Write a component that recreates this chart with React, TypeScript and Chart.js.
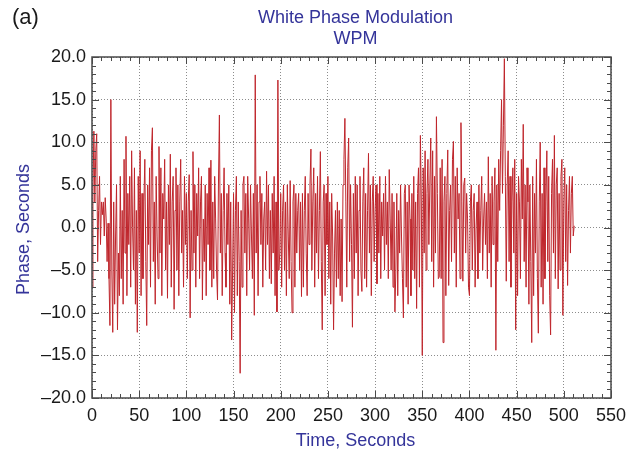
import { useEffect, useRef } from "react";
import { Chart, registerables } from "chart.js";

Chart.register(...registerables);

// Phase values (seconds), one per second, t = 0..511
const phase: number[] = [
  -7, 4, 11.3, 3, 9, 11, -4, 2, 6, -2,
  3, 1.5, 3, -1, 3.5, 1, -4, 0.5, -6, -11.5,
  15, -5, -12.3, 3, -9, -1, 5, -12, -3, -8,
  6, -6, 2, -9, 8, -3, 10.7, -8, 4, -2,
  6, -7, 9, 0, -5, 7, -9, 2, -12.3, 6,
  -3, 9, -8, 4, -6, 3, 8, -4, -11.5, 5,
  -2, 7, -7, 9, 11.7, -4, 3, -9, 6, -1,
  -6, 9.5, -3, 7, -8, 4, 1, 8, -5, 3,
  -8.3, 5, -2, 8.6, -7, 3, 6, -9.6, 2, 7,
  -5, 5, -8, 3, 8, -3, 2, -7, 6, -2,
  4, -6, 3, 6.2, -10.6, 2, -5, 8.9, -3, 5,
  -7, 4, -1, 7, -6, 3, 6, -8.5, 1, -4,
  5, -8, 4, -2, 7, -5, 7.9, -7, 3, -6,
  6, 1, -5, -8.5, 5, 13.2, -3, 4, -8, 2,
  7, -3, -7, 4, -2, 5, -9, 3, -13.2, -5,
  4, -10, 2, 6, -8, 3, -4, -17.1, 2, -7,
  5, 6, -3, 4, -8, 6, 1, -5, 5, -1,
  -6, 4, -10.3, 17.9, -3, 5, -8, 3, 6, -2,
  4, -7, 1, 3, -5, 6.6, -2, 5, -6, 2,
  -6.6, 4, -3, 6, -8, 3, -9.9, 17.3, -5, -3,
  4, -7, 2, 5, -5, 3, -8, 5, -1, -6,
  5.5, -4, -10, 3, 5, -7, 4, -3, 2, 4,
  -5, 3, -8.1, 4, -7, 2, 6, -3, -8, 4,
  -2, 5, 9.2, -5, 3, 7, -7, 4, -3, 6,
  -6, 2, 8.9, -4, -12, 3, 5, -8, 4, -2,
  6, -6, 3, -9, 4, -1, -12, -3, 2, -7,
  3, -6, 2, -8, 1, -8.7, 5, 8, 12.8, 3,
  -7, 7, 10.5, -4, 5, -2, -11.7, 4, -6, 6,
  -3, 5, -8, 2, 6, -5, -7.5, 3, 7, -6,
  4, -7, 2, 8.7, -3, 5, -8, 3, 6, -4,
  2, 5, -6.6, 4, -3, 6, -6, 3, -1, 4,
  -5, 6, -2, 3, -6, 6.8, 1, -5, 4, -7,
  3, -9.9, -5, 4, -8, 2, -3, 5, -1, -6,
  -10.6, 4, 5, -7, 3, -9, 5, 1, -8, 4,
  -5, 6, -6, 3, -9.5, 4, 7, -7, 10.8, 3,
  -15, 7, -3, 9, -5, 4, 8, -2, 5, 10.5,
  -4, 9, -7, 6, -3, 13, 4, -6, -5.8, 7,
  -6, 8, -13.5, 3, 6, -8, 4, 9.1, -6.8, 2,
  5, -4, 8, 10.1, -3, 6, -7, 7, 1, 4,
  -6, 12.3, 3, -6.3, 5, 5.8, -3, 4, 1, -7,
  -8, 3, 5, -5, 2, 4, -7, 0, 3, -6,
  5, -3, 2, 6, -5, 1, 4, -2, 3, -6,
  8.3, -3, 4, -7, 6, -2, 3, 7, -14.4, 5,
  -4, 8, 2, 9, 15, 4, 12, 19.8, 6, -6.3,
  5, 9, -4, 6, -7, 3, 7, -3, 8, -12,
  4, -8, 6, 3, -6, 8, 1, 12.1, -4, 5,
  -7, 7, 3, -9, 5, -4, -13.5, 6, -8, 4,
  -3, 8, -6, -12.4, 3, 10, -7, 4, -9, 7,
  -6, 3, 9, -4, 6, -8, -12.6, 4, 8, -3,
  10.8, -6, 5, 7, -7.2, 4, -5, 6, 8, -10.3,
  3, 7, -4, 5, -6.8, 2, 6, -3, 4, 6,
  -1, 0.2,
];

const xTickValues: number[] = [0, 50, 100, 150, 200, 250, 300, 350, 400, 450, 500, 550];
const yTickValues: number[] = [-20, -15, -10, -5, 0, 5, 10, 15, 20];

const titleLines: string[] = ["White Phase Modulation", "WPM"];
const panelLabel = "(a)";
const xTitle = "Time, Seconds";
const yTitle = "Phase, Seconds";

const FONT = "'Liberation Sans', Arial, Helvetica, sans-serif";
const BLUE = "#34349a";

const framePlugin = {
  id: "frameAndText",
  afterDraw(chart: any) {
    const { ctx, chartArea: a, scales } = chart;
    const x = scales.x;
    const y = scales.y;
    ctx.save();
    // frame
    ctx.strokeStyle = "#4a4a4a";
    ctx.lineWidth = 1.5;
    ctx.strokeRect(a.left, a.top, a.right - a.left, a.bottom - a.top);
    // ticks on all four sides, pointing inward
    ctx.lineWidth = 1;
    ctx.beginPath();
    for (let v = 0; v <= 550; v += 10) {
      const px = Math.round(x.getPixelForValue(v)) + 0.5;
      const len = v % 50 === 0 ? 7 : 4;
      ctx.moveTo(px, a.bottom);
      ctx.lineTo(px, a.bottom - len);
      ctx.moveTo(px, a.top);
      ctx.lineTo(px, a.top + len);
    }
    for (let v = -20; v <= 20; v += 1) {
      const py = Math.round(y.getPixelForValue(v)) + 0.5;
      const len = v % 5 === 0 ? 7 : 4;
      ctx.moveTo(a.left, py);
      ctx.lineTo(a.left + len, py);
      ctx.moveTo(a.right, py);
      ctx.lineTo(a.right - len, py);
    }
    ctx.stroke();

    // texts
    const cx = (a.left + a.right) / 2 + 4;
    ctx.fillStyle = "#1a1a1a";
    ctx.font = `22px ${FONT}`;
    ctx.textAlign = "left";
    ctx.textBaseline = "middle";
    ctx.fillText(panelLabel, 12, 18);

    ctx.fillStyle = BLUE;
    ctx.font = `18px ${FONT}`;
    ctx.textAlign = "center";
    ctx.fillText(titleLines[0], cx, 18);
    ctx.fillText(titleLines[1], cx, 39);
    ctx.fillText(xTitle, cx, 441);

    ctx.translate(24, (a.top + a.bottom) / 2 + 2);
    ctx.rotate(-Math.PI / 2);
    ctx.fillText(yTitle, 0, 0);
    ctx.restore();
  },
};

export default function App() {
  const ref = useRef<HTMLCanvasElement>(null);

  useEffect(() => {
    document.body.style.margin = "0";
    const canvas = ref.current;
    if (!canvas) return;
    const points = phase.map((v, i) => ({ x: i, y: v }));
    const chart = new Chart(canvas, {
      type: "line",
      data: {
        datasets: [
          {
            data: points,
            borderColor: "#bf262c",
            borderWidth: 1,
            pointRadius: 0,
            tension: 0,
            fill: false,
          },
        ],
      },
      options: {
        responsive: false,
        animation: false,
        devicePixelRatio: 1,
        layout: { padding: { left: 0, right: 30, top: 57, bottom: 0 } },
        plugins: {
          legend: { display: false },
          tooltip: { enabled: false },
          title: { display: false },
        },
        scales: {
          x: {
            type: "linear",
            min: 0,
            max: 550,
            afterBuildTicks: (s: any) => {
              s.ticks = xTickValues.map((v) => ({ value: v }));
            },
            afterFit: (s: any) => {
              s.height = 58;
            },
            ticks: {
              color: "#1a1a1a",
              font: { family: FONT, size: 18 },
              padding: 7,
              maxRotation: 0,
              autoSkip: false,
              callback: (v: any) => String(v),
            },
            grid: { color: "#8c8c8c", lineWidth: 1, drawTicks: false },
            border: { display: false, dash: [1, 2] },
          },
          y: {
            type: "linear",
            min: -20,
            max: 20,
            afterBuildTicks: (s: any) => {
              s.ticks = yTickValues.map((v) => ({ value: v }));
            },
            afterFit: (s: any) => {
              s.width = 92;
            },
            ticks: {
              color: "#1a1a1a",
              font: { family: FONT, size: 18 },
              padding: 6,
              autoSkip: false,
              callback: (v: any) => {
                const n = Number(v);
                return n < 0 ? "\u2013" + Math.abs(n).toFixed(1) : n.toFixed(1);
              },
            },
            grid: { color: "#8c8c8c", lineWidth: 1, drawTicks: false },
            border: { display: false, dash: [1, 2] },
          },
        },
      },
      plugins: [framePlugin],
    });
    return () => chart.destroy();
  }, []);

  return (
    <div style={{ position: "absolute", left: 0, top: 0, width: 641, height: 456 }}>
      <canvas ref={ref} width={641} height={456} style={{ width: 641, height: 456 }} />
    </div>
  );
}
